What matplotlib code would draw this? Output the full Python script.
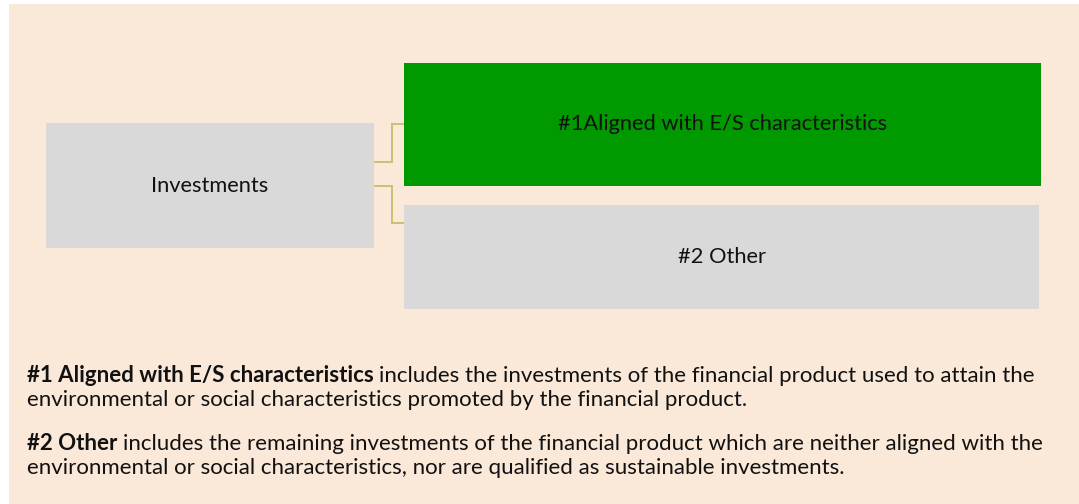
import matplotlib
matplotlib.use("Agg")
import matplotlib.pyplot as plt
from matplotlib.patches import Rectangle

# ---- content ----
root_label = "Investments"
child_labels = ["#1Aligned with E/S characteristics", "#2 Other"]
child_colors = ["#009900", "#D9D9D9"]
desc_bold = ["#1 Aligned with E/S characteristics", "#2 Other"]
desc_rest = [
    ["includes the investments of the financial product used to attain the",
     "environmental or social characteristics promoted by the financial product."],
    ["includes the remaining investments of the financial product which are neither aligned with the",
     "environmental or social characteristics, nor are qualified as sustainable investments."],
]

# ---- layout (pixels) ----
W, H = 1079, 504
BG = "#FAE8D8"
FONT = "Lato"
TXT = "#111111"

fig = plt.figure(figsize=(W / 100, H / 100), dpi=100)
ax = fig.add_axes([0, 0, 1, 1])
ax.set_xlim(0, W)
ax.set_ylim(H, 0)
ax.axis("off")
fig.patch.set_facecolor("white")

ax.add_patch(Rectangle((9, 4), W - 9, H - 4, facecolor=BG, edgecolor="none", zorder=0))

# boxes
root_box = (46, 123, 374, 248)
child_boxes = [(404, 63, 1041, 186), (404, 205, 1039, 309)]

def box(b, color):
    x0, y0, x1, y1 = b
    ax.add_patch(Rectangle((x0, y0), x1 - x0, y1 - y0, facecolor=color, edgecolor="none", zorder=1))

box(root_box, "#D9D9D9")
for b, c in zip(child_boxes, child_colors):
    box(b, c)

# connectors
line_kw = dict(color="#C8BC6C", lw=1.3, zorder=0.5, solid_joinstyle="miter")
mid_x = 392
ax.plot([374, mid_x, mid_x, 404], [162, 162, 124, 124], **line_kw)
ax.plot([374, mid_x, mid_x, 404], [186, 186, 223, 223], **line_kw)

fig.canvas.draw()
renderer = fig.canvas.get_renderer()

def width_px(s, size, weight="normal"):
    t = ax.text(0, 0, s, fontsize=size, family=FONT, weight=weight)
    w = t.get_window_extent(renderer).width
    t.remove()
    return w

# fit body font size so line 1 spans 27..1033
ref = 10
space_ref = width_px("x x", ref) - width_px("xx", ref)
w_ref = width_px(desc_bold[0], ref, "bold") + space_ref + width_px(desc_rest[0][0], ref)
body_size = ref * (1033 - 27) / w_ref

# box label size fitted to #1 label width 330px
box_size = ref * 330 / width_px(child_labels[0], ref)

# box labels
rx0, ry0, rx1, ry1 = root_box
ax.text((rx0 + rx1) / 2, (ry0 + ry1) / 2, root_label, ha="center", va="center",
        fontsize=box_size, family=FONT, color=TXT, zorder=2)
for b, lab in zip(child_boxes, child_labels):
    x0, y0, x1, y1 = b
    ax.text((x0 + x1) / 2, (y0 + y1) / 2, lab, ha="center", va="center",
            fontsize=box_size, family=FONT, color=TXT, zorder=2)

# description paragraphs
space = body_size / ref * space_ref
baselines = [[382, 406], [450, 474]]
x_left = 27
for bold, rest, bl in zip(desc_bold, desc_rest, baselines):
    tb = ax.text(x_left, bl[0], bold, ha="left", va="baseline", fontsize=body_size,
                 family=FONT, weight="bold", color=TXT)
    wb = tb.get_window_extent(renderer).width
    ax.text(x_left + wb + space, bl[0], rest[0], ha="left", va="baseline",
            fontsize=body_size, family=FONT, color=TXT)
    ax.text(x_left, bl[1], rest[1], ha="left", va="baseline",
            fontsize=body_size, family=FONT, color=TXT)

fig.savefig("out.png", dpi=100, facecolor="white")
